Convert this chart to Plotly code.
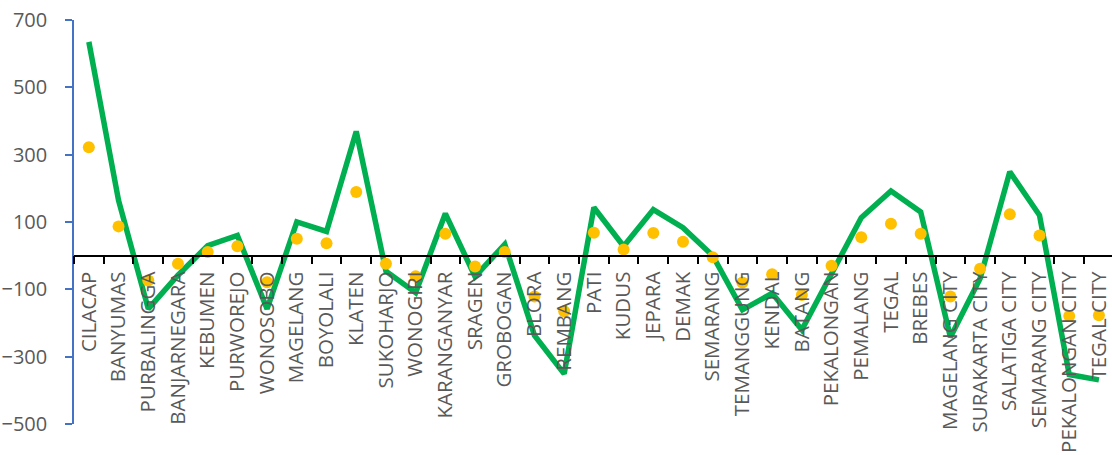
import plotly.graph_objects as go

# Regencies and cities of Central Java
regions = [
    "CILACAP", "BANYUMAS", "PURBALINGGA", "BANJARNEGARA", "KEBUMEN", "PURWOREJO",
    "WONOSOBO", "MAGELANG", "BOYOLALI", "KLATEN", "SUKOHARJO", "WONOGIRI",
    "KARANGANYAR", "SRAGEN", "GROBOGAN", "BLORA", "REMBANG", "PATI", "KUDUS",
    "JEPARA", "DEMAK", "SEMARANG", "TEMANGGUNG", "KENDAL", "BATANG", "PEKALONGAN",
    "PEMALANG", "TEGAL", "BREBES", "MAGELANG CITY", "SURAKARTA CITY",
    "SALATIGA CITY", "SEMARANG CITY", "PEKALONGAN CITY", "TEGAL CITY",
]

line_values = [
    635, 164, -158, -58, 30, 60, -158, 100, 72, 369, -46, -110, 125, -62, 34,
    -237, -351, 143, 28, 137, 83, 0, -161, -112, -220, -50, 113, 192, 130,
    -242, -68, 249, 120, -353, -369,
]

dot_values = [
    322, 87, -74, -24, 11, 28, -79, 50, 37, 189, -24, -61, 65, -32, 11,
    -121, -165, 68, 18, 67, 41, -5, -80, -55, -117, -30, 55, 95, 65,
    -121, -39, 123, 60, -179, -177,
]

y_ticks = [-500, -300, -100, 100, 300, 500, 700]

GREEN = "#00B050"
GOLD = "#FFC000"
TEXT = "#595959"
BLUE = "#4472C4"

fig = go.Figure()
fig.add_trace(go.Scatter(
    x=regions, y=line_values, mode="lines",
    line=dict(color=GREEN, width=5.5), showlegend=False,
))
fig.add_trace(go.Scatter(
    x=regions, y=dot_values, mode="markers",
    marker=dict(color=GOLD, size=12, line=dict(width=0)), showlegend=False,
))

y_min, y_max = -500, 700
fig.update_layout(
    width=1112, height=455,
    margin=dict(l=74, r=0, t=20, b=31),
    paper_bgcolor="white", plot_bgcolor="white",
    font=dict(family="Open Sans", size=20, color=TEXT),
    xaxis=dict(
        type="category",
        range=[-0.5, 34.44],
        anchor="free",
        position=(0 - y_min) / (y_max - y_min),
        showline=True, linecolor="black", linewidth=1.5,
        ticks="outside", tickson="boundaries", ticklen=8,
        tickcolor="black", tickwidth=1.5,
        tickangle=-90,
        ticklabelstandoff=7,
        tickfont=dict(family="Open Sans", size=20.5, color=TEXT),
        showgrid=False, zeroline=False, automargin=False,
    ),
    yaxis=dict(
        range=[y_min, y_max],
        tickvals=y_ticks,
        showline=True, linecolor=BLUE, linewidth=1.5,
        ticks="outside", ticklen=7, tickcolor=BLUE, tickwidth=1.5,
        ticklabelstandoff=14,
        tickfont=dict(family="Open Sans", size=20, color=TEXT),
        showgrid=False, zeroline=False, automargin=False,
    ),
)

fig.write_html("out.html")
